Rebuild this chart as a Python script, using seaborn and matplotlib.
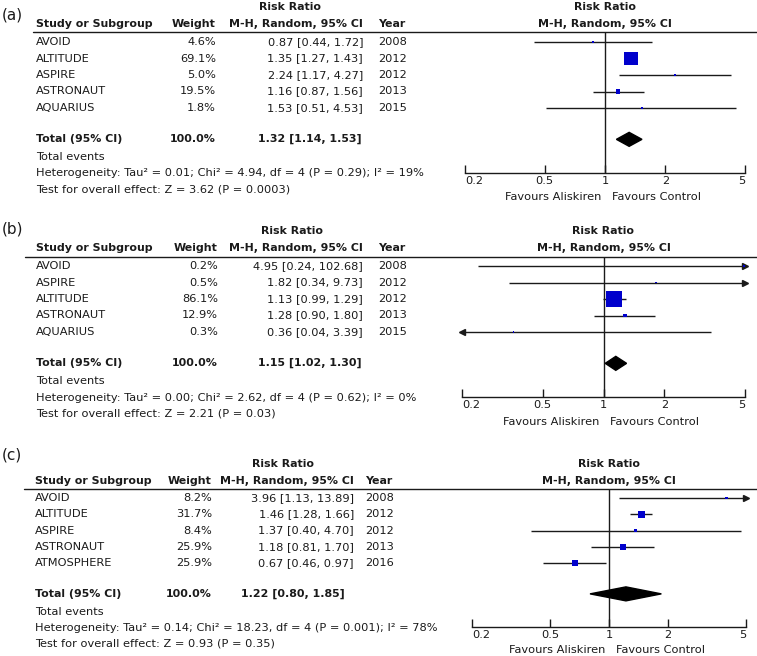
import numpy as np
import pandas as pd
import matplotlib
matplotlib.use("Agg")
import matplotlib.pyplot as plt
import seaborn as sns

# (a) data
studies_a = ["AVOID", "ALTITUDE", "ASPIRE", "ASTRONAUT", "AQUARIUS"]
weight_a = [4.6, 69.1, 5.0, 19.5, 1.8]
rr_a = [0.87, 1.35, 2.24, 1.16, 1.53]
lo_a = [0.44, 1.27, 1.17, 0.87, 0.51]
hi_a = [1.72, 1.43, 4.27, 1.56, 4.53]
year_a = [2008, 2012, 2012, 2013, 2015]
total_a = [1.32, 1.14, 1.53]
het_a = "Heterogeneity: Tau² = 0.01; Chi² = 4.94, df = 4 (P = 0.29); I² = 19%"
test_a = "Test for overall effect: Z = 3.62 (P = 0.0003)"

# (b) data
studies_b = ["AVOID", "ASPIRE", "ALTITUDE", "ASTRONAUT", "AQUARIUS"]
weight_b = [0.2, 0.5, 86.1, 12.9, 0.3]
rr_b = [4.95, 1.82, 1.13, 1.28, 0.36]
lo_b = [0.24, 0.34, 0.99, 0.90, 0.04]
hi_b = [102.68, 9.73, 1.29, 1.80, 3.39]
year_b = [2008, 2012, 2012, 2013, 2015]
total_b = [1.15, 1.02, 1.30]
het_b = "Heterogeneity: Tau² = 0.00; Chi² = 2.62, df = 4 (P = 0.62); I² = 0%"
test_b = "Test for overall effect: Z = 2.21 (P = 0.03)"

# (c) data
studies_c = ["AVOID", "ALTITUDE", "ASPIRE", "ASTRONAUT", "ATMOSPHERE"]
weight_c = [8.2, 31.7, 8.4, 25.9, 25.9]
rr_c = [3.96, 1.46, 1.37, 1.18, 0.67]
lo_c = [1.13, 1.28, 0.40, 0.81, 0.46]
hi_c = [13.89, 1.66, 4.70, 1.70, 0.97]
year_c = [2008, 2012, 2012, 2013, 2016]
total_c = [1.22, 0.80, 1.85]
het_c = "Heterogeneity: Tau² = 0.14; Chi² = 18.23, df = 4 (P = 0.001); I² = 78%"
test_c = "Test for overall effect: Z = 0.93 (P = 0.35)"

tick_vals = [0.2, 0.5, 1, 2, 5]
tick_labels = ["0.2", "0.5", "1", "2", "5"]

sns.set_style("white")
plt.rcParams["font.family"] = ["DejaVu Sans"]
FS = 8.2    # regular text
FSB = 7.9   # bold text
plt.rcParams["font.size"] = FS

W, H = 757, 656
BLUE = "#0000CC"
TXT = "#1a1a1a"

fig = plt.figure(figsize=(W / 100, H / 100), dpi=100)
bg = fig.add_axes([0, 0, 1, 1])
bg.set_xlim(0, W)
bg.set_ylim(H, 0)
bg.axis("off")

# pixel layout of each panel
panels = [
    dict(tag="(a)", studies=studies_a, weight=weight_a, rr=rr_a, lo=lo_a, hi=hi_a,
         year=year_a, total=total_a, het=het_a, test=test_a,
         tag_y=15, rr_y=7, head_y=24, line_y=32, line_x0=33, row0=42, sp=16.5,
         events_y=157, het_y=173, test_y=189, axis_y=173, ax_x0=465, ax_x1=745,
         fav_y=197, study_x=36, weight_r=216, ci_r=363, tot_ci_r=362, year_l=378, rr_x=290),
    dict(tag="(b)", studies=studies_b, weight=weight_b, rr=rr_b, lo=lo_b, hi=hi_b,
         year=year_b, total=total_b, het=het_b, test=test_b,
         tag_y=229, rr_y=231, head_y=248, line_y=257, line_x0=25, row0=266, sp=16.5,
         events_y=381, het_y=398, test_y=414, axis_y=397, ax_x0=462, ax_x1=745,
         fav_y=422, study_x=36, weight_r=218, ci_r=363, tot_ci_r=362, year_l=378, rr_x=292),
    dict(tag="(c)", studies=studies_c, weight=weight_c, rr=rr_c, lo=lo_c, hi=hi_c,
         year=year_c, total=total_c, het=het_c, test=test_c,
         tag_y=455, rr_y=464, head_y=481, line_y=489, line_x0=24, row0=498, sp=16.25,
         events_y=612, het_y=628, test_y=643, axis_y=627, ax_x0=472, ax_x1=746,
         fav_y=650, study_x=35, weight_r=212, ci_r=354, tot_ci_r=345, year_l=365, rr_x=283),
]


def draw_panel(p):
    n = len(p["studies"])
    rows = np.arange(n)
    tot_row = n + 0.9
    row_px = p["row0"] + rows * p["sp"]
    tot_px = p["row0"] + tot_row * p["sp"]
    cx = (p["ax_x0"] + p["ax_x1"]) / 2
    bold = dict(va="center", weight="bold", color=TXT, fontsize=FSB)
    reg = dict(va="center", color=TXT, fontsize=FS)

    # table part
    bg.text(2, p["tag_y"], p["tag"], fontsize=11, va="center", color=TXT)
    bg.text(p["rr_x"], p["rr_y"], "Risk Ratio", ha="center", **bold)
    bg.text(p["study_x"], p["head_y"], "Study or Subgroup", **bold)
    bg.text(p["weight_r"], p["head_y"], "Weight", ha="right", **bold)
    bg.text(p["ci_r"], p["head_y"], "M-H, Random, 95% CI", ha="right", **bold)
    bg.text(p["year_l"], p["head_y"], "Year", **bold)
    bg.plot([p["line_x0"], W], [p["line_y"], p["line_y"]], color=TXT, lw=1)

    for i in range(n):
        y = row_px[i]
        bg.text(p["study_x"], y, p["studies"][i], **reg)
        bg.text(p["weight_r"], y, f"{p['weight'][i]:.1f}%", ha="right", **reg)
        bg.text(p["ci_r"], y, f"{p['rr'][i]:.2f} [{p['lo'][i]:.2f}, {p['hi'][i]:.2f}]",
                ha="right", **reg)
        bg.text(p["year_l"], y, str(p["year"][i]), **reg)

    est, tlo, thi = p["total"]
    bg.text(p["study_x"], tot_px, "Total (95% CI)", **bold)
    bg.text(p["weight_r"], tot_px, "100.0%", ha="right", **bold)
    bg.text(p["tot_ci_r"], tot_px, f"{est:.2f} [{tlo:.2f}, {thi:.2f}]", ha="right", **bold)
    bg.text(p["study_x"], p["events_y"], "Total events", **reg)
    bg.text(p["study_x"], p["het_y"], p["het"], **reg)
    bg.text(p["study_x"], p["test_y"], p["test"], **reg)

    # forest headers
    bg.text(cx, p["rr_y"], "Risk Ratio", ha="center", **bold)
    bg.text(cx, p["head_y"], "M-H, Random, 95% CI", ha="center", **bold)
    bg.text(cx - 4, p["fav_y"], "Favours Aliskiren", ha="right", **reg)
    bg.text(cx + 7, p["fav_y"], "Favours Control", ha="left", **reg)

    # forest axes
    ax = fig.add_axes([p["ax_x0"] / W, 1 - p["axis_y"] / H,
                       (p["ax_x1"] - p["ax_x0"]) / W, (p["axis_y"] - p["line_y"]) / H])
    ax.set_facecolor("none")
    ax.set_xscale("log")

    lo = np.array(p["lo"])
    hi = np.array(p["hi"])
    ax.hlines(rows, np.clip(lo, 0.2, 5), np.clip(hi, 0.2, 5), color=TXT, lw=1, zorder=2)
    for i in range(n):
        if hi[i] > 5:
            ax.plot(5, rows[i], marker=">", ms=4.5, color=TXT, clip_on=False, zorder=2)
        if lo[i] < 0.2:
            ax.plot(0.2, rows[i], marker="<", ms=4.5, color=TXT, clip_on=False, zorder=2)

    side_pt = (1.5 + 0.17 * np.array(p["weight"])) * 0.72
    df = pd.DataFrame({"rr": p["rr"], "row": rows})
    sns.scatterplot(data=df, x="rr", y="row", s=side_pt ** 2, marker="s", color=BLUE,
                    edgecolor="none", linewidth=0, legend=False, ax=ax, zorder=3)

    h = 7 / p["sp"]
    ax.fill([tlo, est, thi, est], [tot_row, tot_row - h, tot_row, tot_row + h],
            color="black", zorder=3)

    ax.axvline(1, color=TXT, lw=1, zorder=1)

    ax.set_xlim(0.2, 5)
    ax.set_ylim((p["axis_y"] - p["row0"]) / p["sp"], (p["line_y"] - p["row0"]) / p["sp"])
    ax.set_xticks(tick_vals)
    ax.set_xticklabels(tick_labels)
    ax.xaxis.set_minor_locator(plt.NullLocator())
    ax.set_yticks([])
    ax.set_xlabel("")
    ax.set_ylabel("")
    for s in ["top", "right", "left"]:
        ax.spines[s].set_visible(False)
    ax.spines["bottom"].set_color(TXT)
    ax.spines["bottom"].set_linewidth(1)
    ax.tick_params(axis="x", direction="in", length=6, width=1, pad=2,
                   labelsize=FS, colors=TXT, bottom=True)
    labs = ax.get_xticklabels()
    labs[0].set_ha("left")
    labs[-1].set_ha("right")


for p in panels:
    draw_panel(p)

fig.savefig("out.png", dpi=100)
